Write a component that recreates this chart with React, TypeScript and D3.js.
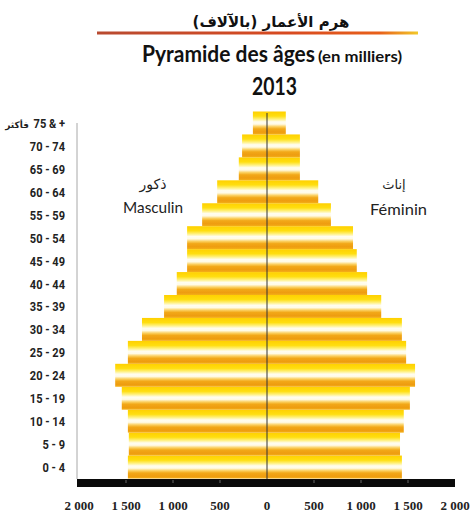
import React from "react";
import * as d3 from "d3";

const ageGroups = ["0 - 4", "5 - 9", "10 - 14", "15 - 19", "20 - 24", "25 - 29", "30 - 34", "35 - 39", "40 - 44", "45 - 49", "50 - 54", "55 - 59", "60 - 64", "65 - 69", "70 - 74", "75+"];
const male = [1480, 1470, 1480, 1545, 1615, 1480, 1330, 1095, 960, 850, 850, 690, 530, 300, 265, 150];
const female = [1435, 1415, 1455, 1520, 1575, 1480, 1435, 1215, 1065, 955, 915, 680, 545, 350, 350, 200];
const xTicks = [-2000, -1500, -1000, -500, 0, 500, 1000, 1500, 2000];

const W = 472;
const H = 518;

export default function App() {
  const x = d3.scaleLinear().domain([-2000, 2000]).range([79, 455]);
  const y = d3
    .scaleBand<string>()
    .domain([...ageGroups].reverse())
    .range([111.5, 478.5])
    .padding(0);
  const bw = y.bandwidth();
  const fmt = (v: number) => {
    const a = Math.abs(v);
    return a >= 1000 ? `${Math.floor(a / 1000)} ${String(a % 1000).padStart(3, "0")}` : `${a}`;
  };
  const axisTop = 479;

  return (
    <svg
      width={W}
      height={H}
      style={{ position: "absolute", left: 0, top: 0, background: "#fff" }}
    >
      <defs>
        <linearGradient id="barGrad" x1="0" y1="0" x2="0" y2="1">
          <stop offset="0" stopColor="#ffd000" />
          <stop offset="0.2" stopColor="#ffde10" />
          <stop offset="0.33" stopColor="#fff07a" />
          <stop offset="0.45" stopColor="#fffdf0" />
          <stop offset="0.55" stopColor="#fffbe6" />
          <stop offset="0.66" stopColor="#fbd060" />
          <stop offset="0.76" stopColor="#f2a818" />
          <stop offset="0.9" stopColor="#ee9c10" />
          <stop offset="1" stopColor="#f4b018" />
        </linearGradient>
        <linearGradient id="lineGrad" x1="0" y1="0" x2="1" y2="0">
          <stop offset="0" stopColor="#b84a30" />
          <stop offset="0.6" stopColor="#d84a20" />
          <stop offset="0.88" stopColor="#e8601a" />
          <stop offset="1" stopColor="#f2c828" />
        </linearGradient>
      </defs>
      <rect x={0} y={0} width={W} height={H} fill="#fff" />

      {/* Titles */}
      <text
        x={271}
        y={27}
        textAnchor="middle"
        direction="rtl"
        fontFamily="DejaVu Sans"
        fontWeight="bold"
        fontSize={15}
        fill="#111"
      >
        هرم الأعمار (بالآلاف)
      </text>
      <rect x={97} y={31.5} width={321} height={3} fill="url(#lineGrad)" />
      <text
        x={142}
        y={62}
        fontFamily="Lato, 'Open Sans', sans-serif"
        fontWeight="bold"
        fontSize={22}
        textLength={173}
        lengthAdjust="spacingAndGlyphs"
        fill="#111"
      >
        Pyramide des âges
      </text>
      <text
        x={318}
        y={62}
        fontFamily="Lato, 'Open Sans', sans-serif"
        fontWeight="bold"
        fontSize={15}
        textLength={84}
        lengthAdjust="spacingAndGlyphs"
        fill="#111"
      >
        (en milliers)
      </text>
      <text
        x={252}
        y={95}
        fontFamily="Lato, 'Open Sans', sans-serif"
        fontWeight="bold"
        fontSize={24}
        textLength={45}
        lengthAdjust="spacingAndGlyphs"
        fill="#111"
      >
        2013
      </text>

      {/* Y axis line */}
      <line x1={77} x2={77} y1={123} y2={axisTop} stroke="#a8a8a8" strokeWidth={1} />

      {/* Bars */}
      {ageGroups.map((g, i) => (
        <g key={g}>
          <rect
            x={x(-male[i])}
            y={y(g)}
            width={x(0) - x(-male[i])}
            height={bw}
            fill="url(#barGrad)"
          />
          <rect
            x={x(0)}
            y={y(g)}
            width={x(female[i]) - x(0)}
            height={bw}
            fill="url(#barGrad)"
          />
        </g>
      ))}

      {/* Center line */}
      <line x1={x(0)} x2={x(0)} y1={113} y2={axisTop} stroke="#333" strokeWidth={1} />

      {/* Y labels */}
      {ageGroups.map((g) => {
        const cy = (y(g) as number) + bw / 2 + 5;
        if (g === "75+") {
          return (
            <g key={g}>
              <text
                transform={`translate(65,${cy}) scale(0.85,1)`}
                textAnchor="end"
                fontFamily="Roboto, 'Liberation Sans', sans-serif"
                fontWeight="bold"
                fontSize={13}
                fill="#222"
              >
                75 &amp; +
              </text>
              <text
                x={29}
                y={cy}
                textAnchor="end"
                fontFamily="DejaVu Sans"
                fontWeight="bold"
                fontSize={9}
                fill="#222"
              >
                فأكثر
              </text>
            </g>
          );
        }
        return (
          <text
            key={g}
            transform={`translate(65,${cy}) scale(0.85,1)`}
            textAnchor="end"
            fontFamily="Roboto, 'Liberation Sans', sans-serif"
            fontWeight="bold"
            fontSize={13}
            fill="#222"
          >
            {g}
          </text>
        );
      })}

      {/* Sex labels */}
      <text x={153} y={189} textAnchor="middle" fontFamily="DejaVu Sans" fontSize={14} fill="#222">
        ذكور
      </text>
      <text
        x={123}
        y={213}
        fontFamily="Lato, 'Open Sans', sans-serif"
        fontSize={16}
        textLength={60}
        lengthAdjust="spacingAndGlyphs"
        fill="#222"
      >
        Masculin
      </text>
      <text x={394} y={189} textAnchor="middle" fontFamily="DejaVu Sans" fontSize={13} fill="#222">
        إناث
      </text>
      <text
        x={370}
        y={215}
        fontFamily="Lato, 'Open Sans', sans-serif"
        fontSize={16}
        textLength={57}
        lengthAdjust="spacingAndGlyphs"
        fill="#222"
      >
        Féminin
      </text>

      {/* X axis thick bar */}
      <rect x={77} y={axisTop} width={378} height={8} fill="#0a0a0a" />
      {xTicks
        .filter((t) => Math.abs(t) !== 2000 && t !== 0)
        .map((t) => (
          <line key={t} x1={x(t)} x2={x(t)} y1={axisTop + 1} y2={axisTop + 4} stroke="#666" strokeWidth={1} />
        ))}
      {xTicks.map((t) => (
        <text
          key={t}
          x={x(t)}
          y={510}
          textAnchor="middle"
          fontFamily="'Liberation Serif', serif"
          fontWeight="bold"
          fontSize={13}
          fill="#222"
        >
          {fmt(t)}
        </text>
      ))}
    </svg>
  );
}
